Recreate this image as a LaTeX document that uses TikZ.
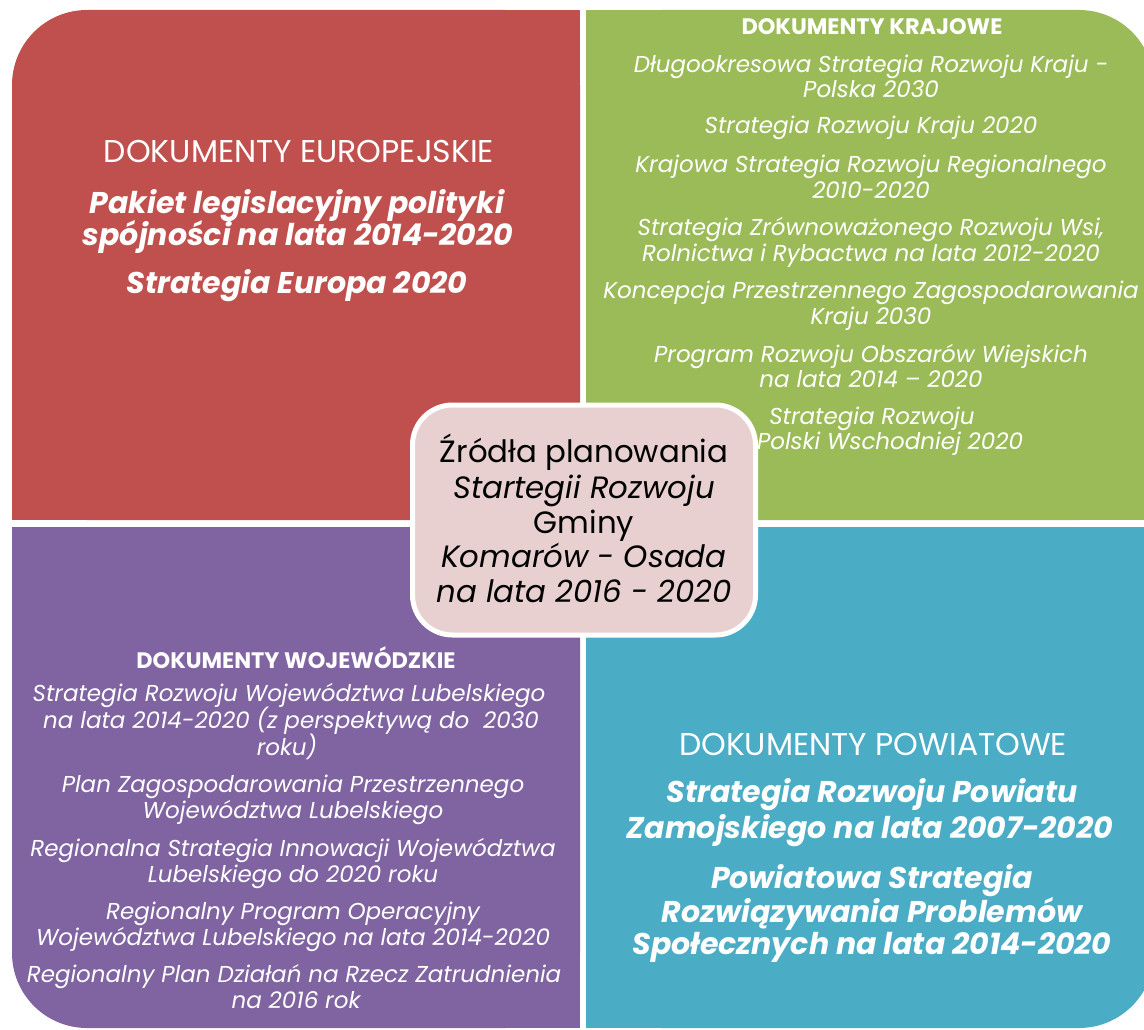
\documentclass[tikz,border=0pt]{standalone}
\usepackage{fontspec}
\setmainfont{Poppins}
\definecolor{cred}{HTML}{C0504D}
\definecolor{cgreen}{HTML}{9BBB59}
\definecolor{cpurple}{HTML}{8064A2}
\definecolor{cteal}{HTML}{4BACC6}
\definecolor{cpink}{HTML}{E8D0D1}
\tikzset{
  hdr/.style={text=white, anchor=base, inner sep=0pt, font=\fontsize{31.5}{31.5}\selectfont},
  hdrb/.style={text=white, anchor=base, inner sep=0pt, font=\fontsize{22.4}{22.4}\selectfont\bfseries},
  big/.style={text=white, anchor=base, inner sep=0pt, font=\fontsize{30}{30}\selectfont\bfseries\itshape},
  sm/.style={text=white, anchor=base, inner sep=0pt, font=\fontsize{23}{23}\selectfont\itshape},
  ctr/.style={text=black, anchor=base, inner sep=0pt, font=\fontsize{30.8}{30.8}\selectfont},
  ctri/.style={text=black, anchor=base, inner sep=0pt, font=\fontsize{30.8}{30.8}\selectfont\itshape},
  quad/.style={rounded corners=75pt}
}
\begin{document}
\begin{tikzpicture}[x=1pt,y=-1pt]
\useasboundingbox (0,0) rectangle (1144,1030);
\clip (0,0) rectangle (1144,1030);
% quadrants
\fill[cred, quad] (12,10) rectangle (580,520);
\fill[cred] (300,10) rectangle (580,520);
\fill[cred] (12,300) rectangle (580,520);
\fill[cgreen, quad] (586,10) rectangle (1154,520);
\fill[cgreen] (586,10) rectangle (900,520);
\fill[cgreen] (586,300) rectangle (1154,520);
\fill[cpurple, quad] (12,527) rectangle (580,1028);
\fill[cpurple] (300,527) rectangle (580,1028);
\fill[cpurple] (12,527) rectangle (580,800);
\fill[cteal, quad] (586,527) rectangle (1154,1028);
\fill[cteal] (586,527) rectangle (900,1028);
\fill[cteal] (586,527) rectangle (1154,800);
% red
\node[hdr] (e0) at (299,163) {DOKUMENTY EUROPEJSKIE};
\node[big] (e1) at (297,214) {Pakiet legislacyjny polityki};
\node[big] (e2) at (298,245) {spójności na lata 2014-2020};
\node[big] (e3) at (297,293) {Strategia Europa 2020};
% green
\node[hdrb] (k0) at (872,35) {DOKUMENTY KRAJOWE};
\node[sm] (k1) at (871,73) {Długookresowa Strategia Rozwoju Kraju -};
\node[sm] (k2) at (871,98) {Polska 2030};
\node[sm] (k3) at (871,134) {Strategia Rozwoju Kraju 2020};
\node[sm] (k4) at (871,173) {Krajowa Strategia Rozwoju Regionalnego};
\node[sm] (k5) at (871,198) {2010-2020};
\node[sm] (k6) at (871,236) {Strategia Zrównoważonego Rozwoju Wsi,};
\node[sm] (k7) at (871,261) {Rolnictwa i Rybactwa na lata 2012-2020};
\node[sm] (k8) at (871,298) {Koncepcja Przestrzennego Zagospodarowania};
\node[sm] (k9) at (871,324) {Kraju 2030};
\node[sm] (k10) at (871,362) {Program Rozwoju Obszarów Wiejskich};
\node[sm] (k11) at (871,387) {na lata 2014 – 2020};
\node[sm] (k12) at (872,424) {Strategia Rozwoju};
\node[sm] (k13) at (890,449) {Polski Wschodniej 2020};
% purple
\node[hdrb] (w0) at (296,668) {DOKUMENTY WOJEWÓDZKIE};
\node[sm] (w1) at (289,701) {Strategia Rozwoju Województwa Lubelskiego};
\node[sm] (w2) at (291,728) {na lata 2014-2020 (z perspektywą do~~2030};
\node[sm] (w3) at (287,755) {roku)};
\node[sm] (w4) at (293,792) {Plan Zagospodarowania Przestrzennego};
\node[sm] (w5) at (293,818) {Województwa Lubelskiego};
\node[sm] (w6) at (293,856) {Regionalna Strategia Innowacji Województwa};
\node[sm] (w7) at (293,882) {Lubelskiego do 2020 roku};
\node[sm] (w8) at (293,919) {Regionalny Program Operacyjny};
\node[sm] (w9) at (293,945) {Województwa Lubelskiego na lata 2014-2020};
\node[sm] (w10) at (294,982) {Regionalny Plan Działań na Rzecz Zatrudnienia};
\node[sm] (w11) at (296,1008) {na 2016 rok};
% teal
\node[hdr] (p0) at (873,755) {DOKUMENTY POWIATOWE};
\node[big] (p1) at (872,802) {Strategia Rozwoju Powiatu};
\node[big] (p2) at (870,838) {Zamojskiego na lata 2007-2020};
\node[big] (p3) at (872,888) {Powiatowa Strategia};
\node[big] (p4) at (872,922) {Rozwiązywania Problemów};
\node[big] (p5) at (872,954) {Społecznych na lata 2014-2020};
% centre
\node[draw=white, line width=5pt, fill=cpink, rounded corners=40pt, minimum width=343pt, minimum height=230pt, inner sep=0pt] (c) at (584,520) {};
\node[ctr] (c1) at (584,462) {Źródła planowania};
\node[ctri] (c2) at (584,498) {Startegii Rozwoju};
\node[ctr] (c3) at (584,533) {Gminy};
\node[ctri] (c4) at (584,567) {Komarów - Osada};
\node[ctri] (c5) at (584,602) {na lata 2016 - 2020};
\end{tikzpicture}
\end{document}
